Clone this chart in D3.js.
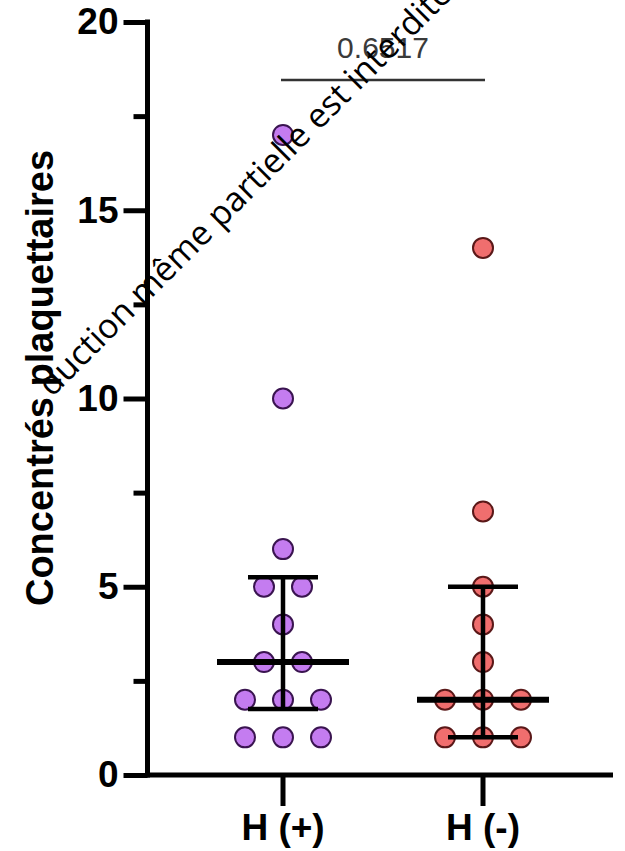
<!DOCTYPE html>
<html>
	<head>
		<title>Concentrés plaquettaires - H (+) / H (-)</title>
		<script src="https://d3js.org/d3.v7.min.js"></script>
		<style>
			body { margin: 0; background: white; }
			.axis text { font-family: "Liberation Sans", Arial, sans-serif; font-weight: bold; font-size: 37px; fill: black; }
			.axis line { stroke: black; stroke-width: 5; }
		</style>
	</head>
	<body>
		<script type="text/javascript">
			var width = 625;
			var height = 851;

			// data
			var groups = ["H (+)", "H (-)"];
			var hPlus = [17, 10, 6, 5, 5, 4, 3, 3, 2, 2, 2, 1, 1, 1];
			var hMinus = [14, 7, 5, 4, 3, 2, 2, 2, 1, 1, 1];
			var yTicks = [0, 5, 10, 15, 20];
			var yMinorTicks = [2.5, 7.5, 12.5, 17.5];
			var pValue = "0.6517";
			var yTitle = "Concentrés plaquettaires";
			var watermark = "duction même partielle est interdite";

			var fills = ["#c47cf0", "#f06e6e"];
			var strokes = ["#3a1450", "#5a1818"];

			var svg = d3.select("body").append("svg")
				.attr("width", width)
				.attr("height", height);

			var y = d3.scaleLinear()
				.domain([0, 20])
				.range([775, 22]);

			var x = d3.scaleBand()
				.domain(groups)
				.range([183, 583])
				.padding(0);

			var axisX = 147.5;

			// quartiles, (n+1) method like Prism
			function quant(sorted, p) {
				var pos = p * (sorted.length + 1) - 1;
				if (pos <= 0) return sorted[0];
				if (pos >= sorted.length - 1) return sorted[sorted.length - 1];
				var lo = Math.floor(pos);
				return sorted[lo] + (pos - lo) * (sorted[lo + 1] - sorted[lo]);
			}

			// spread equal values side by side
			var spacing = 38;
			function swarm(values) {
				var counts = d3.rollup(values, function(v) { return v.length; }, function(d) { return d; });
				var seen = new Map();
				return values.map(function(v) {
					var k = counts.get(v);
					var i = seen.get(v) || 0;
					seen.set(v, i + 1);
					return { value: v, offset: (i - (k - 1) / 2) * spacing };
				});
			}

			var series = [hPlus, hMinus].map(function(values, gi) {
				var sorted = values.slice().sort(d3.ascending);
				return {
					name: groups[gi],
					fill: fills[gi],
					stroke: strokes[gi],
					points: swarm(values),
					q1: quant(sorted, 0.25),
					med: quant(sorted, 0.5),
					q3: quant(sorted, 0.75)
				};
			});

			// y axis, major + minor ticks
			svg.append("g")
				.classed("axis", true)
				.attr("transform", "translate(" + axisX + ",0)")
				.call(d3.axisLeft(y).tickValues(yTicks).tickSize(24).tickPadding(5))
				.call(function(g) { g.select(".domain").remove(); });

			svg.append("g")
				.classed("axis", true)
				.attr("transform", "translate(" + axisX + ",0)")
				.call(d3.axisLeft(y).tickValues(yMinorTicks).tickSize(14).tickFormat(""))
				.call(function(g) { g.select(".domain").remove(); });

			svg.append("line")
				.attr("x1", axisX).attr("x2", axisX)
				.attr("y1", y(20) - 2.5).attr("y2", y(0) + 2.5)
				.attr("stroke", "black")
				.attr("stroke-width", 5);

			// x axis
			svg.append("g")
				.classed("axis", true)
				.attr("transform", "translate(0," + y(0) + ")")
				.call(d3.axisBottom(x).tickSize(31).tickPadding(8))
				.call(function(g) { g.select(".domain").remove(); });

			svg.append("line")
				.attr("x1", axisX - 2.5).attr("x2", 613)
				.attr("y1", y(0)).attr("y2", y(0))
				.attr("stroke", "black")
				.attr("stroke-width", 5);

			// y title
			svg.append("text")
				.attr("transform", "translate(53," + 378 + ") rotate(-90)")
				.attr("text-anchor", "middle")
				.style("font-family", "'Liberation Sans', Arial, sans-serif")
				.style("font-weight", "bold")
				.style("font-size", "38px")
				.text(yTitle);

			// points
			var groupG = svg.selectAll("g.group")
				.data(series)
				.enter().append("g")
				.attr("class", "group");

			groupG.selectAll("circle")
				.data(function(d) { return d.points.map(function(p) { return { p: p, s: d }; }); })
				.enter().append("circle")
				.attr("cx", function(d) { return x(d.s.name) + x.bandwidth() / 2 + d.p.offset; })
				.attr("cy", function(d) { return y(d.p.value); })
				.attr("r", 10)
				.attr("fill", function(d) { return d.s.fill; })
				.attr("stroke", function(d) { return d.s.stroke; })
				.attr("stroke-width", 2);

			// median + interquartile range
			groupG.each(function(d) {
				var g = d3.select(this);
				var cx = x(d.name) + x.bandwidth() / 2;
				g.append("line")
					.attr("x1", cx).attr("x2", cx)
					.attr("y1", y(d.q1)).attr("y2", y(d.q3))
					.attr("stroke", "black").attr("stroke-width", 4.5);
				[d.q1, d.q3].forEach(function(v) {
					g.append("line")
						.attr("x1", cx - 35).attr("x2", cx + 35)
						.attr("y1", y(v)).attr("y2", y(v))
						.attr("stroke", "black").attr("stroke-width", 4.5);
				});
				g.append("line")
					.attr("x1", cx - 66).attr("x2", cx + 66)
					.attr("y1", y(d.med)).attr("y2", y(d.med))
					.attr("stroke", "black").attr("stroke-width", 6);
			});

			// significance bracket
			var x1 = x(groups[0]) + x.bandwidth() / 2 - 2;
			var x2 = x(groups[1]) + x.bandwidth() / 2 + 2;
			svg.append("line")
				.attr("x1", x1).attr("x2", x2)
				.attr("y1", 80).attr("y2", 80)
				.attr("stroke", "#333")
				.attr("stroke-width", 2.5);

			svg.append("text")
				.attr("x", (x1 + x2) / 2)
				.attr("y", 58)
				.attr("text-anchor", "middle")
				.style("font-family", "'Liberation Sans', Arial, sans-serif")
				.style("font-size", "30px")
				.style("fill", "#3a3a3a")
				.text(pValue);

			// watermark across the plot (cut by the picture's edge)
			svg.append("text")
				.attr("transform", "translate(52,398) rotate(-45)")
				.style("font-family", "'Open Sans', sans-serif")
				.style("font-size", "34px")
				.style("fill", "black")
				.text(watermark);
		</script>
	</body>
</html>
